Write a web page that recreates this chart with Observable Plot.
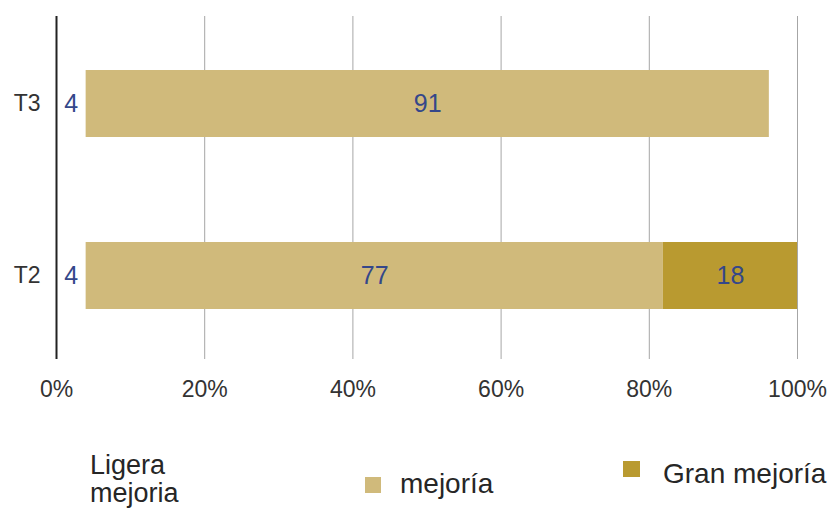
<!DOCTYPE html>
<html>
<head>
<meta charset="utf-8">
<script src="https://cdn.jsdelivr.net/npm/d3@7"></script>
<script src="https://cdn.jsdelivr.net/npm/@observablehq/plot@0.6"></script>
<style>
  html, body { margin: 0; padding: 0; background: #fff; }
  #wrap { position: relative; width: 833px; height: 510px; overflow: hidden; }
  #legend { position: absolute; left: 0; top: 0; pointer-events: none; }
</style>
</head>
<body>
<div id="wrap"></div>
<script>
// ---- data ----
const rows = ["T3", "T2"];
const categories = ["Ligera mejoria", "mejoría", "Gran mejoría"];
const colors = ["#ffffff", "#D0BA7B", "#B99A30"];
const valuesT3 = [4.0, 92.2, 0];
const valuesT2 = [4.0, 77.9, 18.1];
const labelsT3 = ["4", "91", ""];
const labelsT2 = ["4", "77", "18"];
const xTicks = [0, 20, 40, 60, 80, 100];

const seriesValues = {T3: valuesT3, T2: valuesT2};
const seriesLabels = {T3: labelsT3, T2: labelsT2};
const data = [];
for (const r of rows) {
  categories.forEach((c, i) => {
    if (seriesValues[r][i] > 0) data.push({row: r, cat: c, value: seriesValues[r][i], label: seriesLabels[r][i]});
  });
}

const font = "'Liberation Sans', Arial, sans-serif";

const chart = Plot.plot({
  width: 833,
  height: 430,
  marginLeft: 56,
  marginRight: 36,
  marginTop: 16,
  marginBottom: 71,
  style: {fontFamily: font, fontSize: "23px", color: "#333", background: "transparent"},
  x: {domain: [0, 100], ticks: xTicks, tickFormat: d => d + "%", tickSize: 0, tickPadding: 21, label: null},
  y: {domain: rows, paddingInner: 0.613, paddingOuter: 0.298, align: 0.515, tickSize: 0, tickPadding: 16, label: null},
  color: {domain: categories, range: colors},
  marks: [
    Plot.gridX(xTicks, {stroke: "#a6a6a6", strokeOpacity: 1, strokeWidth: 1}),
    Plot.barX(data, Plot.stackX({x: "value", y: "row", fill: "cat"})),
    Plot.text(data, Plot.stackX({x: "value", y: "row", z: "cat", text: "label", fill: "#34478A", fontSize: 25})),
    Plot.ruleX([0], {stroke: "#222", strokeWidth: 2})
  ]
});

const wrap = document.getElementById("wrap");
wrap.appendChild(chart);

// ---- legend ----
const lg = d3.select(wrap).append("svg")
  .attr("id", "legend").attr("width", 833).attr("height", 510)
  .style("font-family", font).style("font-size", "28px");

// item 1: no visible swatch (white), two-line label
lg.append("text").attr("x", 90).attr("y", 474).attr("fill", "#262626").style("font-size", "27px").text("Ligera");
lg.append("text").attr("x", 90).attr("y", 502).attr("fill", "#262626").style("font-size", "27px").text("mejoria");

// item 2
lg.append("rect").attr("x", 365).attr("y", 477).attr("width", 16).attr("height", 16).attr("fill", colors[1]);
lg.append("text").attr("x", 400).attr("y", 493).attr("fill", "#262626").text(categories[1]);

// item 3
lg.append("rect").attr("x", 623).attr("y", 461).attr("width", 17).attr("height", 16).attr("fill", colors[2]);
lg.append("text").attr("x", 663).attr("y", 483).attr("fill", "#262626").text(categories[2]);
</script>
</body>
</html>
